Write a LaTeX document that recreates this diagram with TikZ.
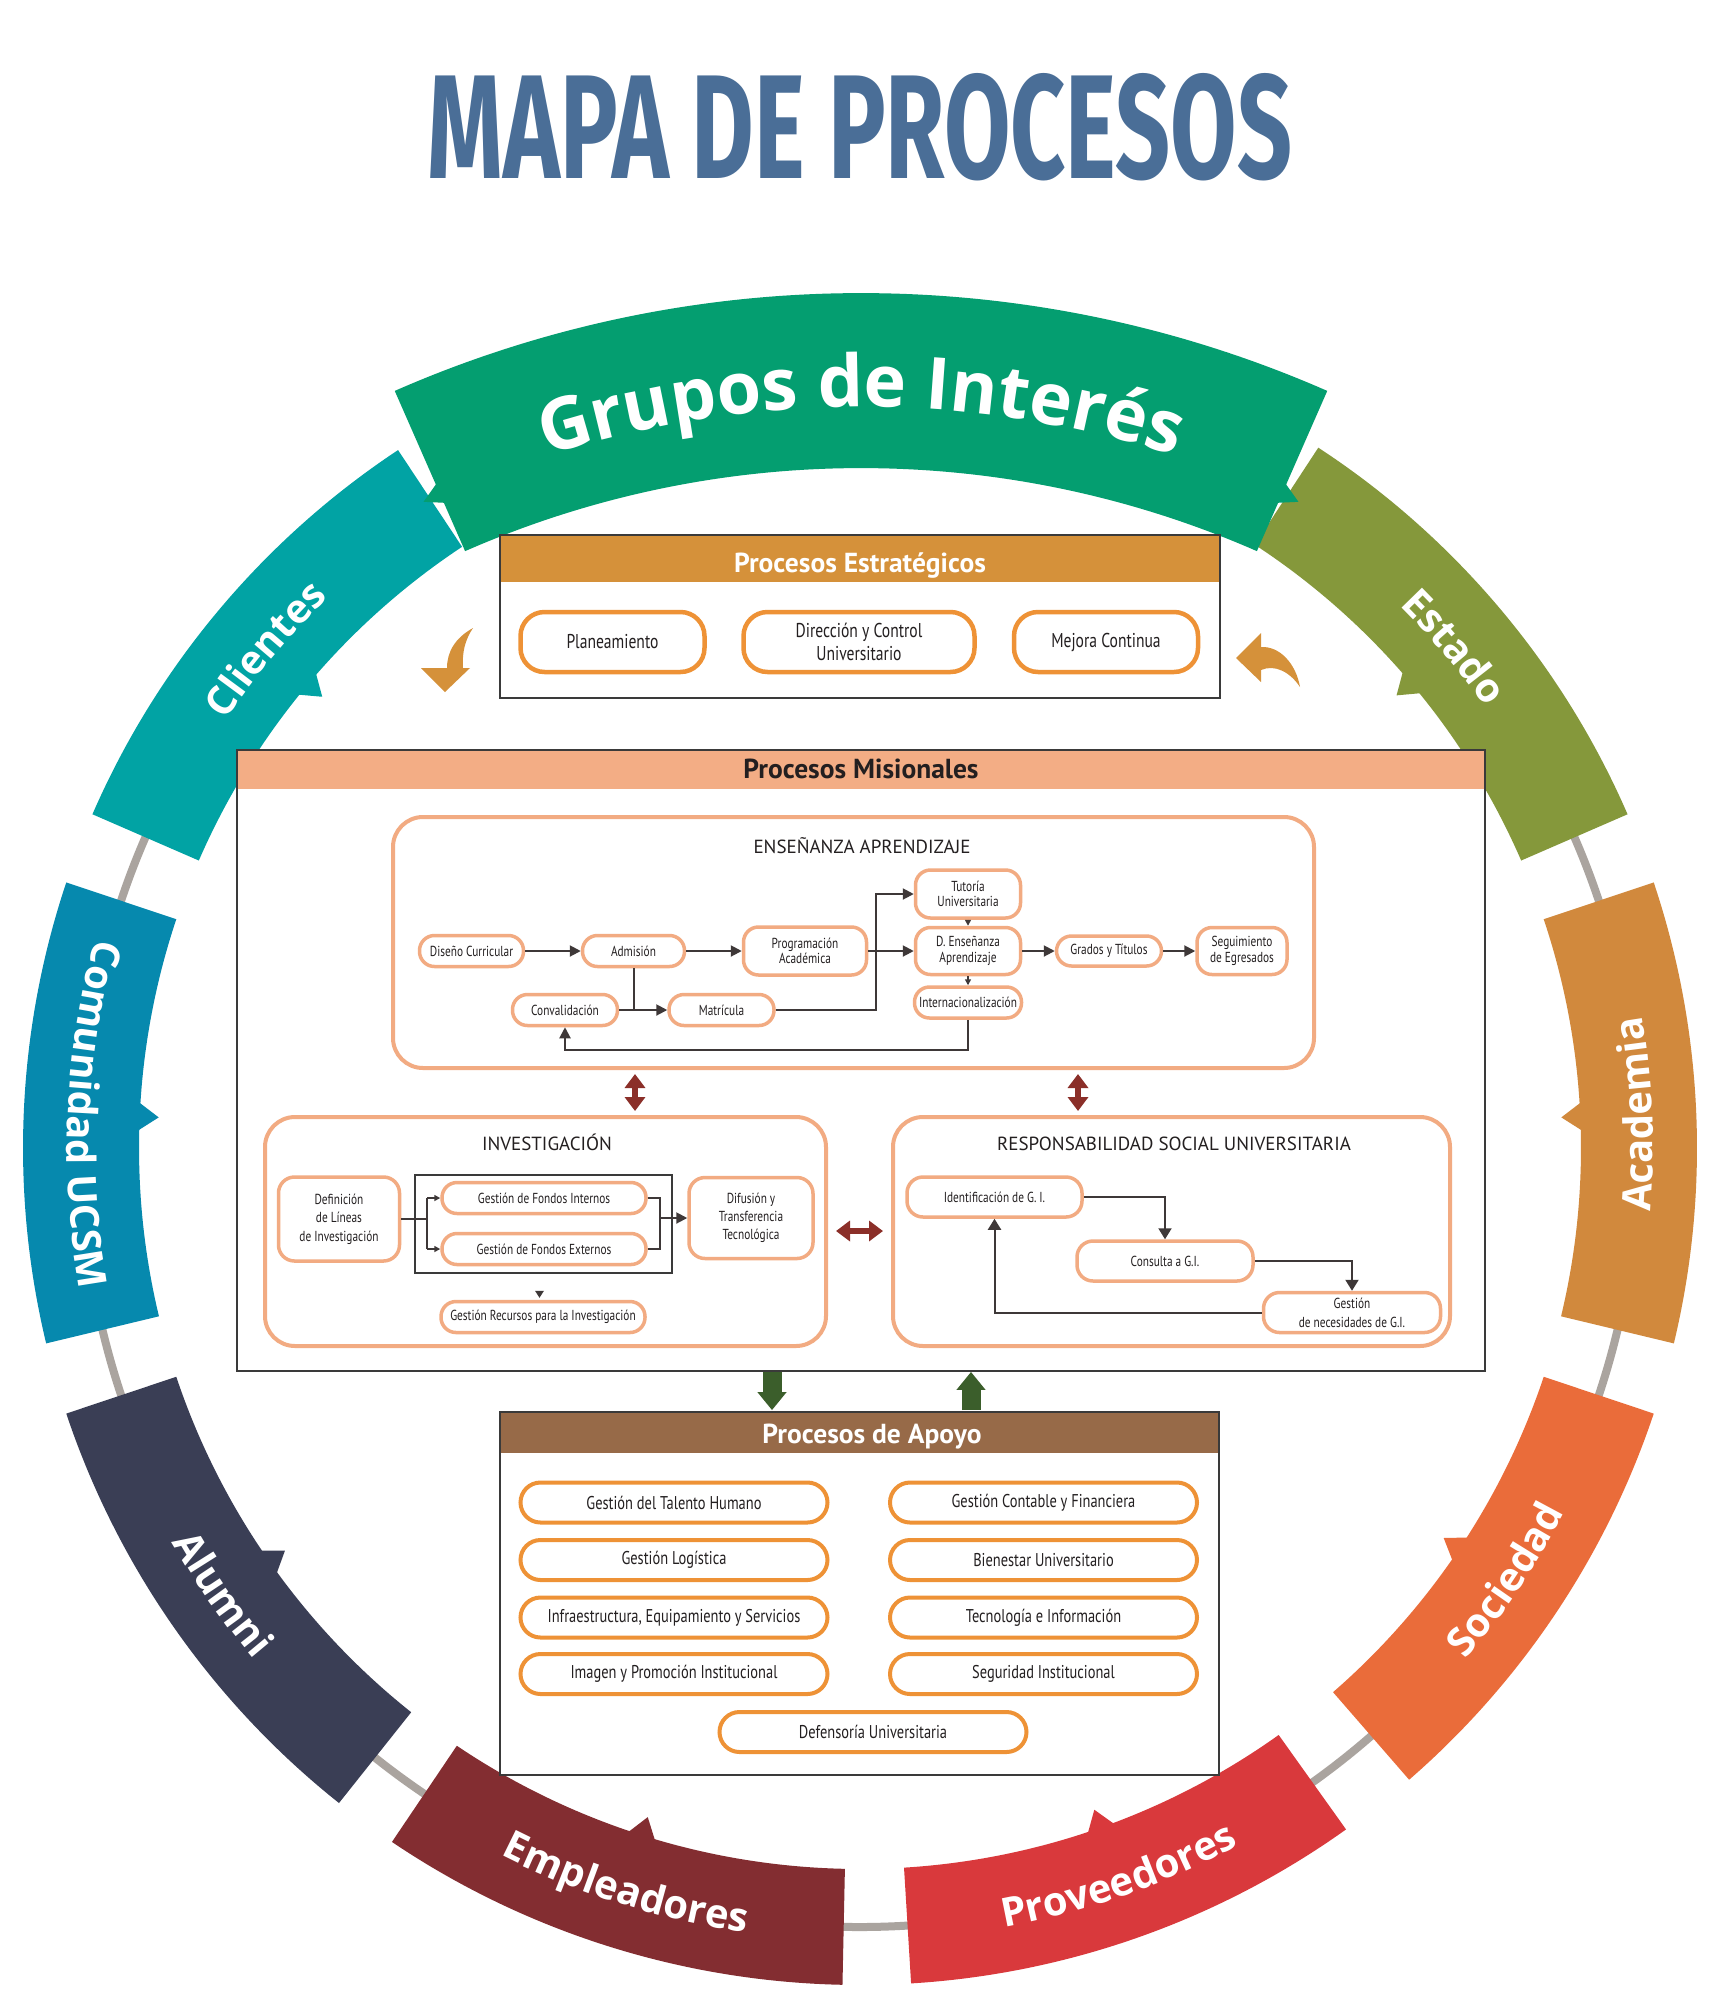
\documentclass[tikz,border=0pt]{standalone}
\usepackage{fontspec}
\usepackage{graphicx}
\usetikzlibrary{arrows.meta,decorations.text,calc}

\newfontfamily\ringfont{Open Sans}
\newfontfamily\labfont[FakeStretch=0.78]{PT Sans}
\newfontfamily\secfont{PT Sans}
\newfontfamily\titfont{Fira Sans}

\newcommand\ringlab{\ringfont\bfseries\fontsize{40}{40}\selectfont}
\newcommand\grplab{\ringfont\bfseries\fontsize{72}{72}\selectfont}

\definecolor{titleblue}{HTML}{4A6E97}
\definecolor{cGrupos}{HTML}{049E70}
\definecolor{cClientes}{HTML}{01A3A4}
\definecolor{cComunidad}{HTML}{0689AE}
\definecolor{cAlumni}{HTML}{3A3E55}
\definecolor{cEmpleadores}{HTML}{832D31}
\definecolor{cProveedores}{HTML}{D9393C}
\definecolor{cSociedad}{HTML}{EA6C3A}
\definecolor{cAcademia}{HTML}{D1893D}
\definecolor{cEstado}{HTML}{85983B}
\definecolor{ringgray}{HTML}{AAA49F}
\definecolor{hEst}{HTML}{D5913A}
\definecolor{hMis}{HTML}{F3AD85}
\definecolor{hApo}{HTML}{976A48}
\definecolor{pillor}{HTML}{EE9236}
\definecolor{salmonb}{HTML}{F2AB82}
\definecolor{darkc}{HTML}{3E3838}
\definecolor{framec}{HTML}{3A3A3A}
\definecolor{textc}{HTML}{231F20}
\definecolor{dred}{HTML}{8B2F29}
\definecolor{dgreen}{HTML}{3B5E2B}
\definecolor{curvor}{HTML}{D5913A}

\begin{document}
\begin{tikzpicture}[x=1pt,y=1pt]
\tikzset{
  conn/.style={draw=darkc, line width=2},
  arr/.style={conn, -{Triangle[length=11pt,width=11pt]}},
  sarr/.style={conn, line width=1.5, -{Triangle[length=6pt,width=6pt]}},
  rarr/.style={conn, -{Triangle[length=11pt,width=13pt]}},
  frame/.style={draw=framec, line width=1.8, inner sep=0},
  pillE/.style={draw=pillor, line width=4.5, fill=white, rounded corners=24, inner sep=0,
    align=center, minimum height=60, font=\labfont\fontsize{20}{23}\selectfont, text=textc},
  pillA/.style={draw=pillor, line width=4, fill=white, rounded corners=20, inner sep=0,
    minimum width=307, minimum height=40, font=\labfont\fontsize{18.5}{20}\selectfont, text=textc},
  pillM/.style={draw=salmonb, line width=3.5, fill=white, rounded corners=15, inner sep=0,
    align=center, font=\labfont\fontsize{14.5}{15.5}\selectfont, text=textc},
  secbox/.style={draw=salmonb, line width=4, rounded corners=30, inner sep=0},
  sectitle/.style={font=\secfont\fontsize{19}{21}\selectfont, text=textc, anchor=base},
  headtitle/.style={font=\secfont\bfseries\fontsize{27.5}{30}\selectfont, anchor=base},
  dbl/.style={draw=dred, line width=6, {Triangle[length=14pt,width=20pt]}-{Triangle[length=14pt,width=20pt]}},
  garr/.style={draw=dgreen, line width=19, -{Triangle[length=18pt,width=28pt]}},
  cwlab/.style={decorate, decoration={text along path, text align=center, text color=white, text={|\ringlab|#1}}},
}
\useasboundingbox (0,0) rectangle (1718,-2016);
\fill[white] (0,0) rectangle (1718,-2016);

% title
\node[inner sep=0, text=titleblue] (title) at (860,-127.5)
  {\resizebox{864pt}{105pt}{\titfont\bfseries MAPA DE PROCESOS}};

% ring of stakeholder segments
\begin{scope}[shift={(860,-1148)}]
  \draw[ringgray, line width=8] (140:779) arc[start angle=140, end angle=400, radius=779];
  \foreach \a/\b/\c in {123.5/156.5/cClientes, 161.5/193.5/cComunidad, 198.5/231.5/cAlumni,
      236/268.8/cEmpleadores, 273.5/305.5/cProveedores, 311/341.5/cSociedad,
      346.5/378.5/cAcademia, 23.5/56.8/cEstado}{
    \fill[\c] (\a:721) arc[start angle=\a, end angle=\b, radius=721]
      -- (\b:837) arc[start angle=\b, end angle=\a, radius=837] -- cycle;
    \pgfmathsetmacro\m{(\a+\b)/2}
    \fill[\c] ({\m-1.1}:722) -- (\m:702) -- ({\m+1.1}:722) -- cycle;
  }
  \path[cwlab=Clientes] (156.5:765) arc[start angle=156.5, end angle=123.5, radius=765];
  \path[cwlab=Estado] (56.8:765) arc[start angle=56.8, end angle=23.5, radius=765];
  \path[cwlab=Comunidad UCSM] (161.5:793) arc[start angle=161.5, end angle=193.5, radius=793];
  \path[cwlab=Alumni] (198.5:793) arc[start angle=198.5, end angle=231.5, radius=793];
  \path[cwlab=Empleadores] (236:793) arc[start angle=236, end angle=268.8, radius=793];
  \path[cwlab=Proveedores] (273.5:793) arc[start angle=273.5, end angle=305.5, radius=793];
  \path[cwlab=Sociedad] (311:793) arc[start angle=311, end angle=341.5, radius=793];
  \path[cwlab=Academia] (346.5:793) arc[start angle=346.5, end angle=378.5, radius=793];
\end{scope}

% top banner
\begin{scope}[shift={(861,-1453)}]
  \fill[cGrupos] (66.3:985) arc[start angle=66.3, end angle=113.7, radius=985]
    -- (113.7:1160) arc[start angle=113.7, end angle=66.3, radius=1160] -- cycle;
  \fill[cGrupos] (113.5:1036) -- (114.7:1047) -- (113.5:1060) -- cycle;
  \fill[cGrupos] (66.5:1036) -- (65.3:1047) -- (66.5:1060) -- cycle;
  \path[decorate, decoration={text along path, text align=center, text color=white,
      text={|\grplab|Grupos de Interés}}]
    (113.7:1046) arc[start angle=113.7, end angle=66.3, radius=1046];
\end{scope}

% ---------- strategic processes ----------
\fill[white] (500,-535) rectangle (1220,-698);
\fill[hEst] (500,-535) rectangle (1220,-582);
\node[frame, minimum width=720, minimum height=163] (est) at (860,-616.5) {};
\node[headtitle, text=white] (estT) at (860,-572) {Procesos Estratégicos};
\node[pillE, minimum width=184] (plan) at (612.5,-642) {Planeamiento};
\node[pillE, minimum width=231] (dir) at (859,-642) {Dirección y Control\\Universitario};
\node[pillE, minimum width=184] (mej) at (1106,-642) {Mejora Continua};

% curved arrows beside the strategic box
\fill[curvor] (473,-628) .. controls (455,-638) and (447,-652) .. (447,-668)
  -- (421,-668) -- (445,-692) -- (470,-668) -- (463,-668)
  .. controls (462,-652) and (465,-640) .. (473,-628) -- cycle;
\fill[curvor] (1236,-658) -- (1261,-633) -- (1261,-647)
  .. controls (1280,-646) and (1296,-664) .. (1300,-687)
  .. controls (1290,-672) and (1275,-664) .. (1261,-670) -- (1261,-682) -- cycle;

% ---------- mission processes ----------
\fill[white] (237,-750) rectangle (1485,-1371);
\fill[hMis] (237,-750) rectangle (1485,-789);
\node[frame, minimum width=1248, minimum height=621] (mis) at (861,-1060.5) {};
\node[headtitle, text=textc] (misT) at (861,-778) {Procesos Misionales};

% teaching and learning
\node[secbox, minimum width=921, minimum height=251] (ens) at (853.5,-942.5) {};
\node[sectitle] (ensT) at (862,-853) {ENSEÑANZA APRENDIZAJE};
\node[pillM, minimum width=104, minimum height=31] (dis) at (471.5,-951) {Diseño Curricular};
\node[pillM, minimum width=102, minimum height=31] (adm) at (633.5,-951) {Admisión};
\node[pillM, minimum width=123, minimum height=48] (prog) at (805,-951) {Programación\\Académica};
\node[pillM, minimum width=105, minimum height=48] (tut) at (968,-894) {Tutoría\\Universitaria};
\node[pillM, minimum width=105, minimum height=47] (dea) at (968,-951) {D. Enseñanza\\Aprendizaje};
\node[pillM, minimum width=107, minimum height=31] (inter) at (968,-1002.5) {Internacionalización};
\node[pillM, minimum width=105, minimum height=30] (gra) at (1109,-951) {Grados y Títulos};
\node[pillM, minimum width=90, minimum height=47] (seg) at (1242,-951) {Seguimiento\\de Egresados};
\node[pillM, minimum width=105, minimum height=31] (conv) at (565,-1010) {Convalidación};
\node[pillM, minimum width=105, minimum height=31] (mat) at (721.5,-1010) {Matrícula};

\draw[arr] (dis) -- (adm);
\draw[arr] (adm) -- (prog);
\draw[arr] (prog) -- (dea);
\draw[arr] (dea) -- (gra);
\draw[arr] (gra) -- (seg);
\draw[sarr] (tut) -- (dea);
\draw[sarr] (dea) -- (inter);
\draw[conn] (adm.south) -- (adm.south |- conv.east);
\draw[arr] (conv) -- (mat);
\coordinate (jA) at (876,-1010);
\draw[arr] (mat.east) -- (jA) |- (tut.west);
\coordinate (lp) at (0,-1050);
\draw[arr] (inter.south) -- (inter.south |- lp) -| (conv.south);

% research
\node[secbox, minimum width=561, minimum height=229] (inv) at (545.5,-1231.5) {};
\node[sectitle] (invT) at (547,-1150) {INVESTIGACIÓN};
\node[pillM, rounded corners=16, minimum width=121, minimum height=84,
  font=\labfont\fontsize{14.5}{18.3}\selectfont] (def) at (339,-1219) {Definición\\de Líneas\\de Investigación};
\node[frame, line width=1.5, minimum width=257, minimum height=98] (fon) at (543.5,-1224) {};
\node[pillM, minimum width=204, minimum height=31] (gfi) at (544,-1198) {Gestión de Fondos Internos};
\node[pillM, minimum width=204, minimum height=31] (gfe) at (544,-1249) {Gestión de Fondos Externos};
\node[pillM, rounded corners=16, minimum width=124, minimum height=81,
  font=\labfont\fontsize{14.5}{18.3}\selectfont] (dif) at (751,-1218) {Difusión y\\Transferencia\\Tecnológica};
\node[pillM, minimum width=204, minimum height=31] (gri) at (543,-1317) {Gestión Recursos para la Investigación};
\coordinate (sp) at (427,-1219);
\draw[conn] (def.east) -- (sp);
\draw[conn] (sp |- gfi.west) -- (sp |- gfe.west);
\draw[sarr] (sp |- gfi.west) -- (gfi.west);
\draw[sarr] (sp |- gfe.west) -- (gfe.west);
\coordinate (mg) at (659.5,-1218);
\draw[conn] (gfi.east) -- (gfi.east -| mg) -- (gfe.east -| mg) -- (gfe.east);
\draw[arr] (mg) -- (dif.west);
\fill[darkc] ($(gri.north)+(-8,9)$) -- ($(gri.north)+(1,9)$) -- ($(gri.north)+(-3.5,2)$) -- cycle;

% social responsibility
\node[secbox, minimum width=557, minimum height=229] (rsu) at (1171.5,-1231.5) {};
\node[sectitle] (rsuT) at (1174,-1150) {RESPONSABILIDAD SOCIAL UNIVERSITARIA};
\node[pillM, rounded corners=16, minimum width=175, minimum height=40] (ide) at (994.5,-1197) {Identificación de G. I.};
\node[pillM, rounded corners=16, minimum width=176, minimum height=40] (con) at (1165,-1261) {Consulta a G.I.};
\node[pillM, rounded corners=16, minimum width=177, minimum height=40,
  font=\labfont\fontsize{14.5}{19}\selectfont] (gnd) at (1352,-1312.5) {Gestión\\de necesidades de G.I.};
\draw[rarr] (ide.east) -| (con.north);
\draw[rarr] (con.east) -| (gnd.north);
\draw[rarr] (gnd.west) -| (ide.south);

% links between mission blocks
\coordinate (dv1) at (635,0);
\coordinate (dv2) at (1078,0);
\coordinate (dh) at (0,-1231);
\draw[dbl] ($(ens.south -| dv1)+(0,-4)$) -- ($(inv.north -| dv1)+(0,4)$);
\draw[dbl] ($(ens.south -| dv2)+(0,-4)$) -- ($(rsu.north -| dv2)+(0,4)$);
\draw[dbl] ($(inv.east |- dh)+(8,0)$) -- ($(rsu.west |- dh)+(-8,0)$);

% ---------- support processes ----------
\fill[white] (500,-1412) rectangle (1219,-1775);
\fill[hApo] (500,-1412) rectangle (1219,-1453);
\node[frame, minimum width=719, minimum height=363] (apo) at (859.5,-1593.5) {};
\node[headtitle, text=white] (apoT) at (872,-1443) {Procesos de Apoyo};
\node[pillA] (a1) at (674,-1502.5) {Gestión del Talento Humano};
\node[pillA] (a2) at (674,-1560) {Gestión Logística};
\node[pillA] (a3) at (674,-1617.5) {Infraestructura, Equipamiento y Servicios};
\node[pillA] (a4) at (674,-1674) {Imagen y Promoción Institucional};
\node[pillA] (b1) at (1043.5,-1502.5) {Gestión Contable y Financiera};
\node[pillA] (b2) at (1043.5,-1560) {Bienestar Universitario};
\node[pillA] (b3) at (1043.5,-1617.5) {Tecnología e Información};
\node[pillA] (b4) at (1043.5,-1674) {Seguridad Institucional};
\node[pillA] (c1) at (873,-1732) {Defensoría Universitaria};

% links between mission and support
\coordinate (gd) at (772,0);
\coordinate (gu) at (971,0);
\draw[garr] (mis.south -| gd) -- ($(apo.north -| gd)+(0,1)$);
\draw[garr] ($(apo.north -| gu)+(0,1)$) -- (mis.south -| gu);
\end{tikzpicture}
\end{document}
